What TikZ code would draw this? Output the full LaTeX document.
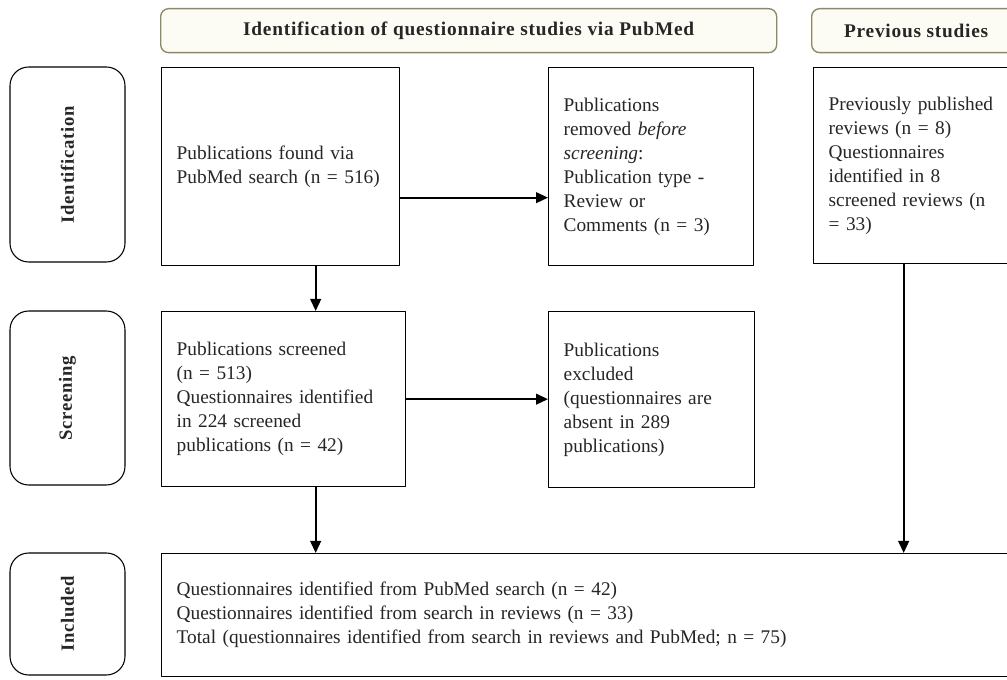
\documentclass[tikz,border=0pt]{standalone}
\usepackage{fontspec}
\setmainfont{Liberation Serif}
\newfontfamily\headfont[LetterSpace=4]{Liberation Serif}
\usetikzlibrary{arrows.meta}
\definecolor{headfill}{RGB}{253,252,244}
\definecolor{headline}{RGB}{140,136,100}
\begin{document}
\begin{tikzpicture}[x=0.75pt, y=-0.75pt, font=\fontsize{14.5}{18}\selectfont, line join=round, >={Triangle[length=9pt,width=8pt]},
	box/.style={draw, line width=1pt, align=left, inner xsep=11.25pt, text=black!85, anchor=north west},
	stage/.style={draw, line width=0.8pt, rounded corners=14pt, rotate=90, font=\headfont\fontsize{14}{16}\selectfont\bfseries, text=black!85, minimum height=86.25pt},
	head/.style={draw=headline, fill=headfill, line width=1pt, rounded corners=6pt, anchor=north west, minimum height=33pt, font=\headfont\fontsize{14.5}{16}\selectfont\bfseries, text=black!85},
	arr/.style={->, line width=1.5pt}]
	\clip (0,0) rectangle (1007,680);
	\fill[white] (0,0) rectangle (1007,680);
	% column headers
	\node[head, minimum width=462pt] (H1) at (160,8) {Identification of questionnaire studies via PubMed};
	\node[head, minimum width=156.75pt] (H2) at (811,8) {Previous studies};
	% stages
	\foreach \n/\y/\h/\t in {I/164.5/146.25pt/Identification, S/398/130.5pt/Screening, N/614/91.5pt/Included}
		\node[stage, minimum width=\h] (\n) at (67.5,\y) {\t};
	% boxes
	\node[box, text width=156pt, minimum height=148.5pt] (A) at (161,67)
		{Publications found via\\PubMed search (n = 516)};
	\node[box, text width=131.25pt, minimum height=148.5pt] (B) at (548,67)
		{Publications\\removed \textit{before}\\\textit{screening}:\\Publication type -\\Review or\\Comments (n = 3)};
	\node[box, text width=127.5pt, minimum height=147pt] (C) at (813,67)
		{Previously published\\reviews (n = 8)\\Questionnaires\\identified in 8\\screened reviews (n\\= 33)};
	\node[box, text width=160.5pt, minimum height=131.25pt] (D) at (161,311)
		{Publications screened\\(n = 513)\\Questionnaires identified\\in 224 screened\\publications (n = 42)};
	\node[box, text width=132pt, minimum height=132pt] (E) at (548,311)
		{Publications\\excluded\\(questionnaires are\\absent in 289\\publications)};
	\node[box, text width=630pt, minimum height=92.25pt] (F) at (161,553)
		{Questionnaires identified from PubMed search (n = 42)\\Questionnaires identified from search in reviews (n = 33)\\Total (questionnaires identified from search in reviews and PubMed; n = 75)};
	% arrows
	\draw[arr] ([yshift=-23.25pt]A.east) -- ([yshift=-23.25pt]A.east -| B.west);
	\draw[arr] (D.east) -- (D.east -| E.west);
	\draw[arr] ([xshift=26.25pt]A.south) -- ([xshift=26.25pt]A.south |- D.north);
	\draw[arr] ([xshift=24pt]D.south) -- ([xshift=24pt]D.south |- F.north);
	\draw[arr] ([xshift=-7.5pt]C.south) -- ([xshift=-7.5pt]C.south |- F.north);
\end{tikzpicture}
\end{document}
